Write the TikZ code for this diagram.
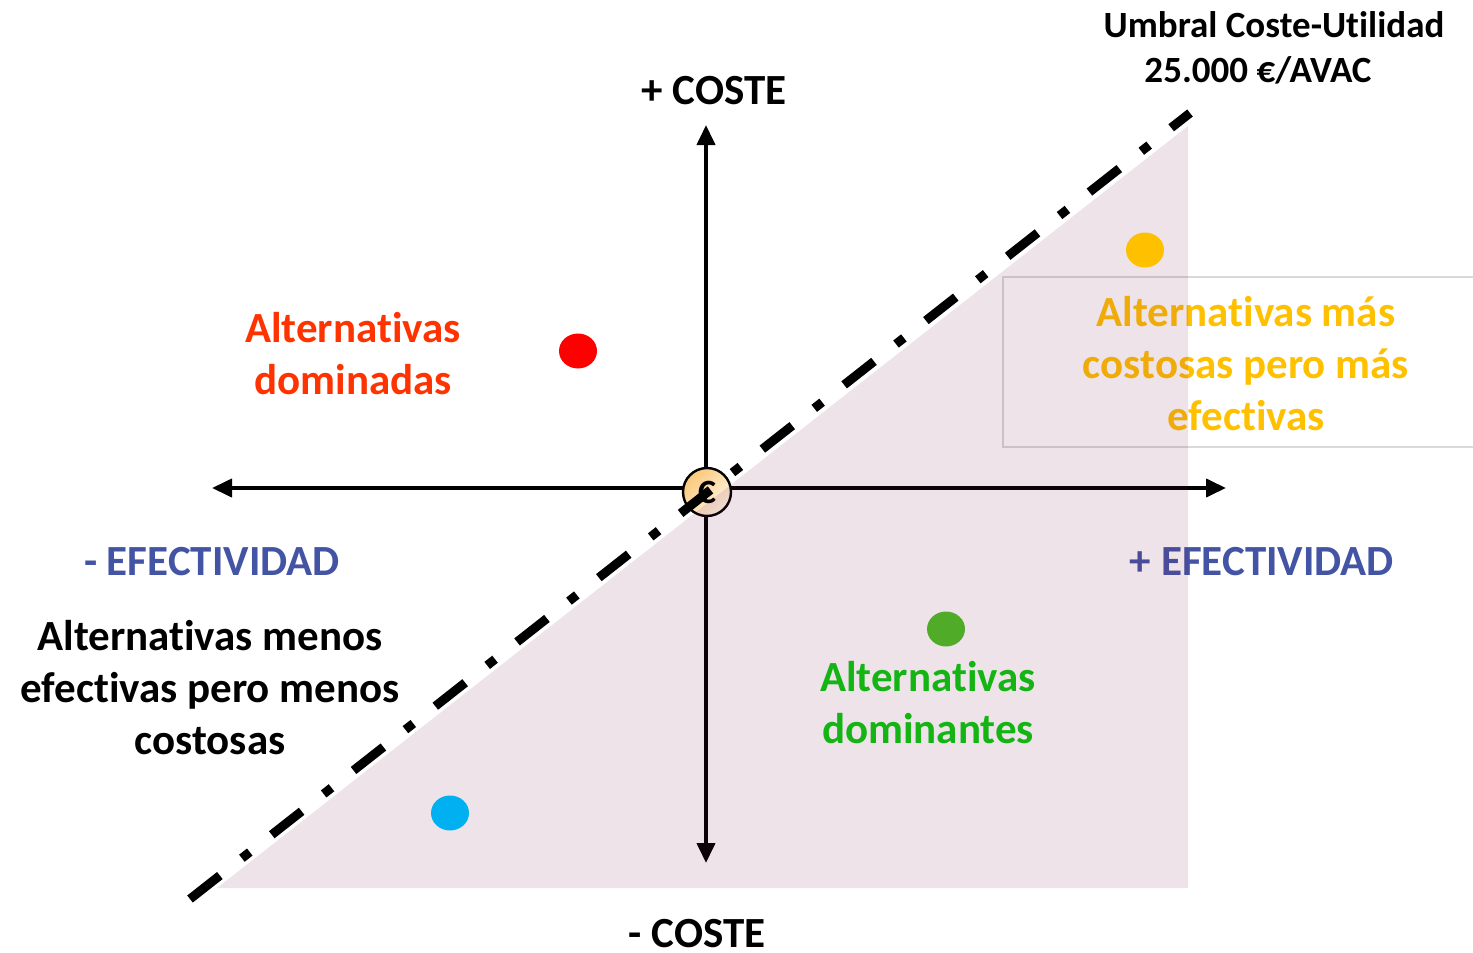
\documentclass[tikz,border=0pt]{standalone}
\usepackage{fontspec}
\setmainfont{Carlito}[Ligatures={NoCommon}]
\usetikzlibrary{arrows.meta,shapes.geometric}
\definecolor{redtxt}{RGB}{255,51,0}
\definecolor{reddot}{RGB}{255,0,0}
\definecolor{bluetxt}{RGB}{68,84,164}
\definecolor{greentxt}{RGB}{20,180,20}
\definecolor{greendot}{RGB}{80,172,40}
\definecolor{yel}{RGB}{255,192,0}
\definecolor{bluedot}{RGB}{0,176,240}
\definecolor{tint}{RGB}{122,22,80}
\definecolor{boxline}{RGB}{217,217,217}
\definecolor{circA}{RGB}{250,200,120}
\definecolor{circB}{RGB}{255,246,232}
\begin{document}
\begin{tikzpicture}[x=0.5pt,y=-0.5pt,
  lbl/.style={font=\bfseries\fontsize{21.5}{26}\selectfont, align=center, inner sep=0pt, anchor=base},
  toplbl/.style={font=\bfseries\fontsize{18.5}{22.5}\selectfont, align=center, inner sep=0pt, anchor=base},
  axisline/.style={line width=2pt, {Triangle[width=9pt,length=10pt]}-{Triangle[width=9pt,length=10pt]}},
  dotmark/.style={ellipse, inner sep=0pt, minimum width=19pt, minimum height=17.5pt},
  thresh/.style={line width=4.5pt, line cap=butt, dash pattern=on 19pt off 14pt on 5pt off 14pt},
  tri/.style={fill=tint, fill opacity=0.12},
  origin/.style={circle, draw, line width=1.2pt, minimum size=24pt, inner sep=0pt,
    top color=circA, bottom color=circB, shading angle=45,
    font=\bfseries\fontsize{17}{17}\selectfont}
]
\useasboundingbox (0,0) rectangle (1473,953);

% texts under the tinted area
\node[lbl, text=yel] (mas) at (1246,430) {Alternativas más\\costosas pero más\\efectivas};
\draw[boxline, line width=0.6pt] (1003,277) rectangle (1490,447);
\node[lbl, text=bluetxt] (efp) at (1262,575) {+ EFECTIVIDAD};

% axes
\coordinate (xl) at (212,488);
\coordinate (xr) at (1226,488);
\coordinate (yt) at (706,125);
\coordinate (yb) at (706,863);
\draw[axisline] (xl) -- (xr);
\draw[axisline] (yb) -- (yt);

% origin
\node[origin] (c) at (707,492) {C};

% tinted triangle
\fill[tri] (217,888) -- (1188,888) -- (1188,126) -- cycle;

% dots
\node[dotmark, fill=reddot] (dr) at (578,351) {};
\node[dotmark, fill=yel] (dy) at (1145,250) {};
\node[dotmark, fill=greendot] (dg) at (946,629) {};
\node[dotmark, fill=bluedot] (db) at (450,813) {};

% threshold line
\coordinate (t1) at (190,899);
\coordinate (t2) at (1190,113);
\draw[thresh] (t1) -- (t2);

% labels
\node[lbl] (cp) at (714,104) {+ COSTE};
\node[lbl, text depth=0pt] (cm) at (697,947) {- COSTE};
\node[toplbl] (u1) at (1274,37) {Umbral Coste-Utilidad};
\node[toplbl] (u2) at (1258,82) {25.000 €/AVAC};
\node[lbl, text=redtxt] (dom) at (353,394) {Alternativas\\dominadas};
\node[lbl, text=bluetxt] (efm) at (212,575) {- EFECTIVIDAD};
\node[lbl] (men) at (210,754) {Alternativas menos\\efectivas pero menos\\costosas};
\node[lbl, text=greentxt] (domt) at (928,743) {Alternativas\\dominantes};
\end{tikzpicture}
\end{document}
